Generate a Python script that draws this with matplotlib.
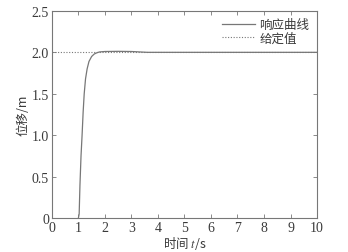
import numpy as np
import matplotlib
matplotlib.use("Agg")
from matplotlib import pyplot as plt
from matplotlib.ticker import FuncFormatter

# response curve
t = [1.0, 1.03, 1.06, 1.1, 1.14, 1.18, 1.22, 1.27, 1.33, 1.4, 1.5, 1.6, 1.7, 1.8, 2.0, 2.5, 3.0, 3.3, 3.6, 10]
pos = [0, 0.05, 0.4, 0.75, 1.0, 1.28, 1.5, 1.68, 1.8, 1.89, 1.95, 1.98, 1.995, 2.005, 2.01, 2.012, 2.01, 2.005, 2.0, 2.0]
setpoint = 2.0

xticks = list(range(0, 11))
yticks = [0, 0.5, 1.0, 1.5, 2.0, 2.5]

serif = ["Liberation Serif", "Noto Sans CJK SC"]
cjk = ["Noto Sans CJK SC", "Liberation Serif"]
grey = "#777777"
txtc = "#3a3a3a"

plt.rcParams["font.family"] = serif
plt.rcParams["font.size"] = 10
plt.rcParams["mathtext.fontset"] = "stix"

fig = plt.figure(figsize=(3.48, 2.53), dpi=100)
ax = fig.add_axes([0.149, 0.134, 0.762, 0.819])

ax.plot(t, pos, color=grey, lw=0.9, label="响应曲线")
ax.plot([0, 10], [setpoint, setpoint], color=grey, lw=0.8, ls=(0, (1, 1.5)), label="给定值")

ax.set_xlim(0, 10)
ax.set_ylim(0, 2.5)
ax.set_xticks(xticks)
ax.set_yticks(yticks)
ax.yaxis.set_major_formatter(FuncFormatter(lambda v, p: "0" if v == 0 else "%.1f" % v))
ax.tick_params(direction="in", top=True, right=True, length=3, width=0.6, color=grey,
               labelcolor=txtc, labelsize=10, pad=2)
for s in ax.spines.values():
    s.set_color(grey)
    s.set_linewidth(0.8)

ax.set_xlabel("时间 $t$/s", family=cjk, color=txtc, fontsize=9, labelpad=0)
ax.set_ylabel("位移/m", family=cjk, color=txtc, fontsize=9, labelpad=2)

leg = ax.legend(loc="upper right", frameon=False, prop={"family": cjk, "size": 9},
                handlelength=2.6, handletextpad=0.4, labelspacing=0.0, borderaxespad=0.2)
for txt in leg.get_texts():
    txt.set_color(txtc)

fig.savefig("out.png", dpi=100)
